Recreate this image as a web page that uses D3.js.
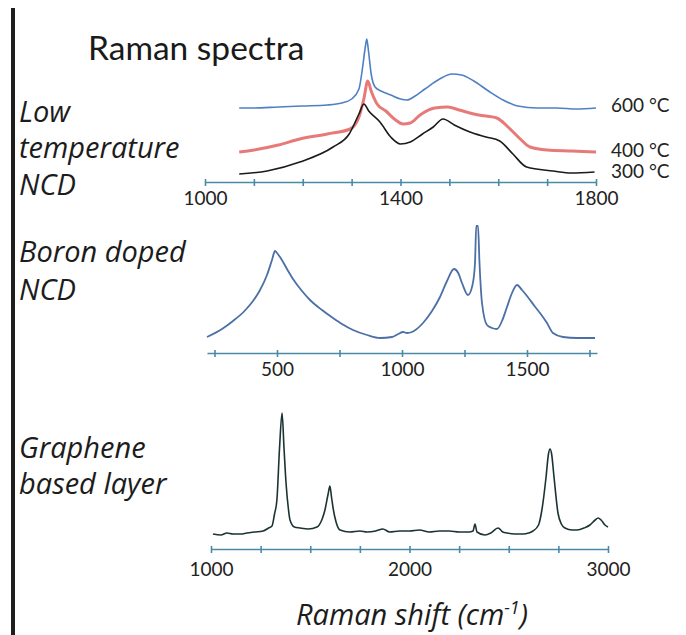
<!DOCTYPE html>
<html>
<head>
<meta charset="utf-8">
<script src="https://cdn.jsdelivr.net/npm/d3@7"></script>
<style>
  body { margin: 0; background: #fff; }
  svg { display: block; }
  .axis path, .axis line { stroke: #4a8aa6; stroke-width: 1.6; }
  .axis text { font-family: Lato, "Open Sans", sans-serif; font-size: 19px; fill: #222; }
  .label { font-family: "Open Sans", sans-serif; font-style: italic; font-size: 29px; fill: #1c1c1c; }
  .temp { font-family: Lato, sans-serif; font-size: 19px; fill: #222; }
  .line { fill: none; stroke-linejoin: round; }
</style>
</head>
<body>
<script>
const width = 686, height = 635

// Low temperature NCD, [Raman shift, intensity a.u.]
const ncd600 = [[1070,74],[1100,74],[1150,75],[1200,76],[1250,77],[1280,79],[1300,83],[1315,93],[1322,113],[1328,135],[1331,143],[1334,133],[1340,108],[1348,95],[1360,91],[1380,87],[1400,83],[1413,82],[1430,86],[1450,93],[1480,103],[1505,108],[1525,107],[1550,101],[1580,91],[1610,82],[1640,76],[1680,74],[1720,74],[1760,73],[1800,74]]
const ncd400 = [[1070,30],[1100,32],[1150,37],[1194,43],[1250,48],[1297,53],[1315,65],[1325,83],[1333,101],[1340,91],[1352,78],[1370,71],[1390,62],[1405,58],[1420,59],[1440,67],[1470,74],[1497,75],[1520,72],[1560,67],[1597,64],[1620,55],[1645,43],[1665,35],[1700,32],[1750,31],[1800,30]]
const ncd300 = [[1070,8],[1127,11],[1194,20],[1262,35],[1295,48],[1315,68],[1325,78],[1335,71],[1358,60],[1380,45],[1400,38],[1420,40],[1445,48],[1467,55],[1487,63],[1510,57],[1542,50],[1575,45],[1603,41],[1630,28],[1658,15],[1712,11],[1750,9],[1797,10]]
const ncdLabels = ["600 °C", "400 °C", "300 °C"]

// Boron doped NCD
const boron = [[220,16],[280,24],[324,32],[370,42],[404,52],[430,62],[460,78],[480,93],[492,102],[500,100],[512,96],[540,84],[564,74],[600,62],[632,53],[680,43],[724,35],[760,29],[804,23],[860,18],[912,15],[960,16],[985,19],[1004,21],[1020,20],[1040,21],[1084,30],[1120,42],[1152,56],[1180,72],[1208,84],[1225,80],[1240,70],[1264,58],[1282,68],[1292,90],[1297,127],[1304,127],[1310,90],[1320,50],[1340,28],[1360,25],[1380,24],[1400,32],[1420,46],[1440,60],[1460,68],[1480,63],[1500,57],[1530,47],[1552,40],[1580,30],[1604,20],[1644,16],[1700,15],[1772,15]]

// Graphene based layer
const graphene = [[1010,15],[1050,14],[1080,16],[1111,15],[1150,15],[1180,16],[1220,17],[1262,18],[1290,21],[1307,23],[1320,35],[1332,49],[1345,100],[1358,136],[1368,100],[1378,66],[1390,40],[1398,29],[1420,22],[1448,21],[1490,20],[1534,22],[1560,30],[1574,39],[1590,55],[1599,63],[1607,52],[1615,41],[1630,27],[1650,19],[1700,17],[1750,18],[1786,17],[1830,18],[1866,20],[1900,17],[1950,18],[2000,18],[2050,19],[2100,17],[2150,18],[2200,18],[2250,17],[2300,17],[2320,18],[2330,25],[2340,17],[2380,14],[2410,16],[2446,21],[2470,17],[2491,16],[2530,15],[2572,15],[2600,16],[2622,18],[2650,24],[2667,39],[2688,72],[2700,95],[2708,100],[2716,95],[2728,72],[2748,36],[2765,25],[2783,21],[2820,19],[2844,19],[2880,21],[2909,24],[2935,29],[2950,31],[2965,29],[2985,24],[3000,22]]

const topTicks = [1000,1100,1200,1300,1400,1500,1600,1700,1800], topLabels = [1000,1400,1800]
const midTicks = [250,500,750,1000,1250,1500,1750], midLabels = [500,1000,1500]
const botTicks = [1000,1250,1500,1750,2000,2250,2500,2750,3000], botLabels = [1000,2000,3000]

const svg = d3.select("body")
    .append("svg")
    .attr("width", width)
    .attr("height", height)

// left bar
svg.append("rect")
    .attr("x", 11).attr("y", 8)
    .attr("width", 4).attr("height", height - 8)
    .attr("fill", "#1e1e1e")

svg.append("text")
    .attr("x", 88).attr("y", 60)
    .style("font-family", "Lato, sans-serif")
    .style("font-size", "33.5px")
    .attr("fill", "#1a1a1a")
    .text("Raman spectra")

function panel(opts) {
    const x = d3.scaleLinear().domain(opts.domain).range(opts.range)
    const y = d3.scaleLinear().domain([0, 150]).range([opts.axisY, opts.axisY - 150])

    const axis = d3.axisBottom(x)
        .tickValues(opts.ticks)
        .tickSizeInner(4)
        .tickSizeOuter(0)
        .tickPadding(opts.pad)
        .tickFormat(d => opts.labels.includes(d) ? d : "")

    const g = svg.append("g")
        .attr("class", "axis")
        .attr("transform", `translate(0,${opts.axisY})`)
        .call(axis)
    g.selectAll(".tick line").attr("y1", -3)

    const line = d3.line()
        .x(d => x(d[0]))
        .y(d => y(d[1]))
        .curve(d3.curveMonotoneX)

    opts.series.forEach(s => {
        svg.append("path")
            .datum(s.data)
            .attr("class", "line")
            .attr("stroke", s.color)
            .attr("stroke-width", s.w)
            .attr("d", line)
    })
}

panel({
    domain: [1000, 1800], range: [205, 596], axisY: 182, pad: 6,
    ticks: topTicks, labels: topLabels,
    series: [
        { data: ncd400, color: "#e77a78", w: 3 },
        { data: ncd300, color: "#1b1b1b", w: 1.6 },
        { data: ncd600, color: "#4f80c4", w: 1.6 }
    ]
})

panel({
    domain: [220, 1780], range: [207, 597], axisY: 353, pad: 6,
    ticks: midTicks, labels: midLabels,
    series: [{ data: boron, color: "#4b6fa6", w: 1.8 }]
})

panel({
    domain: [1000, 3000], range: [211, 608], axisY: 549, pad: 10,
    ticks: botTicks, labels: botLabels,
    series: [{ data: graphene, color: "#1d3333", w: 1.6 }]
})

// temperature labels
const tempY = [112, 157, 178]
ncdLabels.forEach((t, i) => {
    svg.append("text")
        .attr("class", "temp")
        .attr("x", 611).attr("y", tempY[i])
        .text(t)
})

// sample names
const names = [["Low", 122], ["temperature", 158], ["NCD", 195],
    ["Boron doped", 262], ["NCD", 300],
    ["Graphene", 458], ["based layer", 494]]
names.forEach(n => {
    svg.append("text")
        .attr("class", "label")
        .attr("x", 19).attr("y", n[1])
        .text(n[0])
})

const xt = svg.append("text")
    .attr("class", "label")
    .attr("x", 412).attr("y", 625)
    .attr("text-anchor", "middle")
xt.append("tspan").text("Raman shift (cm")
xt.append("tspan").attr("dy", -11).style("font-size", "18px").text("-1")
xt.append("tspan").attr("dy", 11).text(")")
</script>
</body>
</html>
